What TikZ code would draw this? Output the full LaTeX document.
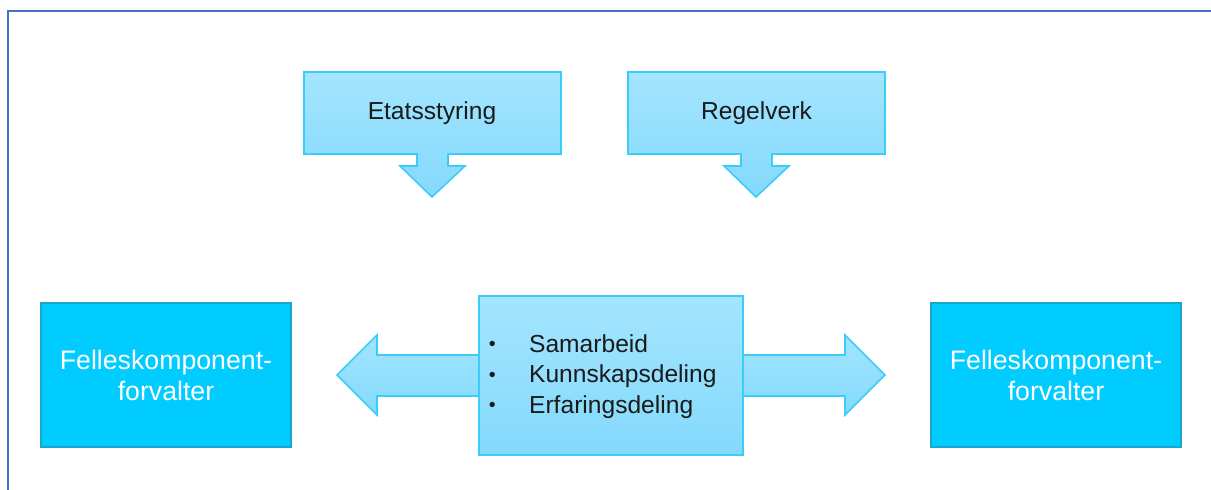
\documentclass[tikz,border=0pt]{standalone}
\usepackage{fontspec}
\setmainfont{Liberation Sans}

\definecolor{framecol}{HTML}{4472C4}
\definecolor{calltop}{HTML}{A3E5FF}
\definecolor{callbot}{HTML}{84D9FC}
\definecolor{callline}{HTML}{3ACDFA}
\definecolor{fkfill}{HTML}{00CCFF}
\definecolor{fkline}{HTML}{1AA6CC}
\definecolor{darktxt}{HTML}{1A1A1A}

\newcommand{\listdot}{\makebox[23.5pt][l]{\hspace{0.6pt}\raisebox{0.9pt}{\scalebox{0.8}{•}}}}

\tikzset{
  callout/.style={draw=callline, line width=0.9pt, top color=calltop, bottom color=callbot, line join=miter},
  darktext/.style={text=darktxt, font=\fontsize{14}{17.4}\selectfont},
  fkbox/.style={draw=fkline, line width=0.9pt, fill=fkfill, text=white, align=center,
    minimum width=5cm, minimum height=2.88cm, font=\fontsize{15.2}{17.6}\selectfont}
}

\begin{document}
\begin{tikzpicture}[x=0.02cm, y=-0.02cm]
    \useasboundingbox (0,0) rectangle (1211,490);

    % frame
    \draw[framecol, line width=1.7pt] (8,490) -- (8,11) -- (1212,11);

    % callouts on top
    \path[callout] (304,72) -- (561,72) -- (561,154) -- (448,154) -- (448,166) -- (465,166)
        -- (432,197) -- (400,166) -- (417,166) -- (417,154) -- (304,154) -- cycle;
    \node[darktext] (etat) at (432,113) {Etatsstyring};

    \path[callout] (628,72) -- (885,72) -- (885,154) -- (772,154) -- (772,166) -- (789,166)
        -- (756,197) -- (724,166) -- (741,166) -- (741,154) -- (628,154) -- cycle;
    \node[darktext] (regel) at (756.5,113) {Regelverk};

    % double arrow behind the middle box
    \path[callout] (337,375) -- (377,335) -- (377,355) -- (845,355) -- (845,335) -- (885,375)
        -- (845,415) -- (845,396) -- (377,396) -- (377,415) -- cycle;
    \node[callout, minimum width=5.28cm, minimum height=3.18cm] (midt) at (611,375.5) {};
    \node[darktext, anchor=west, align=left, inner sep=0pt] (liste) at (487.5,376.5)
        {\listdot Samarbeid\\ \listdot Kunnskapsdeling\\ \listdot Erfaringsdeling};

    % side boxes
    \node[fkbox] (venstre) at (166,375) {Felleskomponent-\\forvalter};
    \node[fkbox] (hoyre) at (1056,375) {Felleskomponent-\\forvalter};
\end{tikzpicture}
\end{document}
